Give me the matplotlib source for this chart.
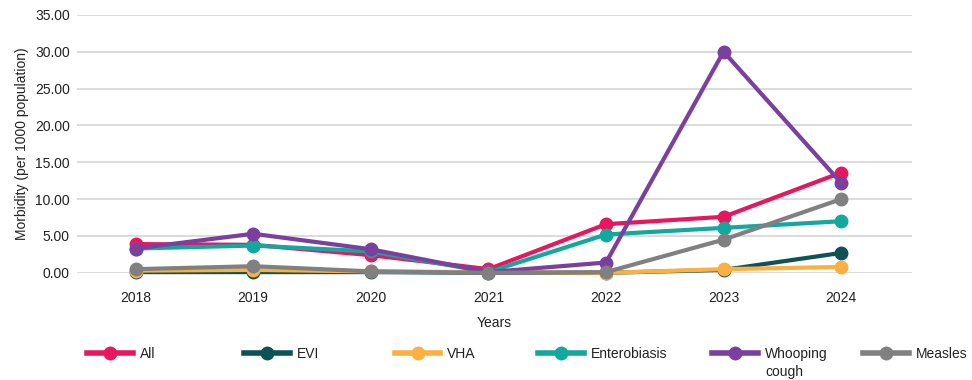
import matplotlib
matplotlib.use("Agg")
import matplotlib.pyplot as plt
from matplotlib.ticker import FormatStrFormatter, MultipleLocator
from matplotlib.lines import Line2D

plt.rcParams['font.family'] = ['Liberation Sans', 'DejaVu Sans']
plt.rcParams['font.size'] = 10

years = ['2018', '2019', '2020', '2021', '2022', '2023', '2024']
series_names = ['All', 'EVI', 'VHA', 'Enterobiasis', 'Whooping cough', 'Measles']
all_cases = [3.9, 3.8, 2.4, 0.5, 6.6, 7.6, 13.6]
evi = [0.1, 0.1, 0.1, 0.0, 0.0, 0.4, 2.7]
vha = [0.3, 0.4, 0.2, 0.1, 0.0, 0.5, 0.8]
enterobiasis = [3.3, 3.7, 2.9, 0.1, 5.2, 6.1, 7.0]
whooping = [3.3, 5.3, 3.2, 0.1, 1.4, 30.0, 12.2]
measles = [0.5, 0.9, 0.2, 0.0, 0.1, 4.5, 10.0]
values = [all_cases, evi, vha, enterobiasis, whooping, measles]
colors = ['#E8175D', '#0D5257', '#FBB040', '#13A89E', '#7B3F9E', '#808080']

fig = plt.figure(figsize=(9.72, 3.80), dpi=100)
ax = fig.add_axes([0.079, 0.282, 0.859, 0.679])

x = list(range(len(years)))
for name, vals, col in zip(series_names, values, colors):
    ax.plot(x, vals, color=col, lw=3, marker='o', ms=9,
            label=name, clip_on=False, zorder=3)

ax.set_ylim(0, 35)
ax.set_xlim(-0.5, 6.6)
ax.yaxis.set_major_locator(MultipleLocator(5))
ax.yaxis.set_major_formatter(FormatStrFormatter('%.2f'))
ax.set_xticks(x)
ax.set_xticklabels(years)
ax.grid(axis='y', color='#D9D9D9', lw=1.3)
ax.set_axisbelow(True)
for s in ax.spines.values():
    s.set_visible(False)
ax.tick_params(length=0, labelsize=10, colors='#222222')
ax.tick_params(axis='x', pad=13)
ax.tick_params(axis='y', pad=5)
ax.set_xlabel('Years', fontsize=10, labelpad=8, color='#222222')
ax.set_ylabel('Morbidity (per 1000 population)', fontsize=10, color='#222222')

# legend entries placed one by one along the bottom; long names wrap
leg_x = [0.090, 0.251, 0.406, 0.554, 0.733, 0.888]
for name, col, lx in zip(series_names, colors, leg_x):
    first, _, rest = name.partition(' ') if name == 'Whooping cough' else (name, '', '')
    h = Line2D([], [], color=col, lw=4, marker='o', ms=9)
    leg = fig.legend(handles=[h], labels=[first], loc='upper left',
                     bbox_to_anchor=(lx, 0.088), frameon=False,
                     handlelength=3.3, handletextpad=0.5,
                     borderpad=0, borderaxespad=0, fontsize=10)
    if rest:
        fig.canvas.draw()
        bb = leg.get_texts()[0].get_window_extent().transformed(fig.transFigure.inverted())
        fig.text(bb.x0, bb.y0 - 0.012, rest, ha='left', va='top', fontsize=10, color='#222222')
    for t in leg.get_texts():
        t.set_color('#222222')

fig.savefig('out.png', dpi=100)
